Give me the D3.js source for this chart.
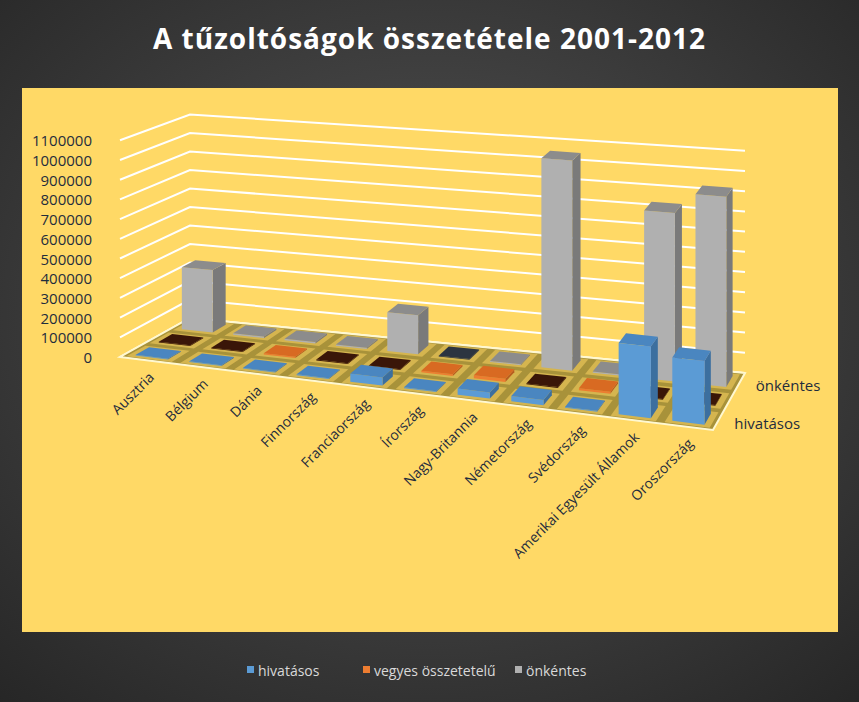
<!DOCTYPE html><html><head><meta charset="utf-8">
<script src="https://d3js.org/d3.v7.min.js"></script>
<style>body{margin:0;background:#333}</style></head><body><script>
const categories=["Ausztria","Bélgium","Dánia","Finnország","Franciaország","Írország","Nagy-Britannia","Németország","Svédország","Amerikai Egyesült Államok","Oroszország"];
const seriesNames=["hivatásos","vegyes összetetelű","önkéntes"];
const hivatasos=[2500,3000,2000,3000,40000,2000,30000,25000,2000,340000,300000];
const vegyes=[0,0,6000,0,0,8000,15000,0,10000,0,0];
const onkentes=[330000,8000,8000,6000,200000,0,5000,1050000,6000,830000,930000];
const yTicks=[0,100000,200000,300000,400000,500000,600000,700000,800000,900000,1000000,1100000];
const W=859,H=702;
const svg=d3.select("body").append("svg").attr("width",W).attr("height",H);
const defs=svg.append("defs");
const rg=defs.append("radialGradient").attr("id","bg").attr("cx","50%").attr("cy","45%").attr("r","75%");
rg.append("stop").attr("offset","0%").attr("stop-color","#555");
rg.append("stop").attr("offset","100%").attr("stop-color","#262626");
svg.append("rect").attr("width",W).attr("height",H).attr("fill","url(#bg)");
svg.append("rect").attr("x",22).attr("y",88).attr("width",816).attr("height",544).attr("fill","#FFD966");
svg.append("text").attr("x",W/2).attr("y",49).attr("text-anchor","middle").attr("font-family","Open Sans, sans-serif")
 .attr("font-weight","bold").attr("font-size",28).attr("fill","#fff").attr("letter-spacing",1).text("A tűzoltóságok összetétele 2001-2012");
// bilinear projection
const FL=[120,357],FR=[713,430],BL=[190,318],BR=[745,373];
const sFL=19.7,sFR=21.3,sBL=18.5,sBR=20.2;
const cS=d3.scaleLinear().domain([0,categories.length]).range([0,1]);
const vS=d3.scaleLinear().domain([0,100000]).range([0,1]);
function P(c,d,v){const u=cS(c),w=d;
 const x=(1-u)*(1-w)*FL[0]+u*(1-w)*FR[0]+(1-u)*w*BL[0]+u*w*BR[0];
 const y=(1-u)*(1-w)*FL[1]+u*(1-w)*FR[1]+(1-u)*w*BL[1]+u*w*BR[1];
 const s=(1-u)*(1-w)*sFL+u*(1-w)*sFR+(1-u)*w*sBL+u*w*sBR;
 return [x,y-vS(v)*s];}
const pts=a=>a.map(p=>p.join(",")).join(" ");
// gridlines
yTicks.forEach(v=>{
 svg.append("polyline").attr("points",pts([P(0,0,v),P(0,1,v),P(11,1,v)])).attr("fill","none").attr("stroke","#fff").attr("stroke-width",2);
 const p=P(0,0,v);
 svg.append("text").attr("x",p[0]-28).attr("y",p[1]+6).attr("text-anchor","end").attr("font-family","Open Sans, sans-serif").attr("font-size",15).attr("fill","#1f2d3d").text(v);
});
// floor
svg.append("polygon").attr("points",pts([P(0,0,0),P(11,0,0),P(11,1,0),P(0,1,0)])).attr("fill","#a8923a").attr("stroke","#fff8d0").attr("stroke-width",2);
for(let r=0;r<3;r++)for(let i=0;i<11;i++){
 svg.append("polygon").attr("points",pts([P(i+0.08,r/3+0.03,0),P(i+0.92,r/3+0.03,0),P(i+0.92,(r+1)/3-0.03,0),P(i+0.08,(r+1)/3-0.03,0)])).attr("fill","#e8c558").attr("opacity",0.7);
}
const cols=[{f:"#5b9bd5",s:"#3c6f9f",t:"#4a86c0",z:"#4f86bd"},{f:"#ed7d31",s:"#b85d20",t:"#d86a22",z:"#3a1608"},{f:"#b0b0b0",s:"#7a7a7a",t:"#8c8c8c",z:"#2c3440"}];
const data=[hivatasos,vegyes,onkentes];
for(let r=2;r>=0;r--){for(let i=0;i<11;i++){
 const v=data[r][i],c0=i+0.2,c1=i+0.8,d0=r/3+0.07,d1=(r+1)/3-0.07,col=cols[r];
 const h=Math.max(v,4000);
 const top=v===0?col.z:col.t;
 svg.append("polygon").attr("points",pts([P(c1,d0,0),P(c1,d1,0),P(c1,d1,h),P(c1,d0,h)])).attr("fill",v===0?col.z:col.s);
 svg.append("polygon").attr("points",pts([P(c0,d0,0),P(c1,d0,0),P(c1,d0,h),P(c0,d0,h)])).attr("fill",v===0?col.z:col.f);
 svg.append("polygon").attr("points",pts([P(c0,d0,h),P(c1,d0,h),P(c1,d1,h),P(c0,d1,h)])).attr("fill",top);
}}
// category labels
categories.forEach((c,i)=>{const p=P(i+0.5,0,0);
 svg.append("text").attr("transform",`translate(${p[0]+8},${p[1]+18}) rotate(-45)`).attr("text-anchor","end").attr("font-family","Open Sans, sans-serif").attr("font-size",14).attr("fill","#1f2d3d").text(c);});
[["önkéntes",5/6],["hivatásos",1/6]].forEach(([t,d])=>{const p=P(11,d,0);
 svg.append("text").attr("x",p[0]+16).attr("y",p[1]+8).attr("font-family","Open Sans, sans-serif").attr("font-size",15).attr("fill","#1f2d3d").text(t);});
// legend
const lg=[[258,"hivatásos"],[374,"vegyes összetetelű"],[526,"önkéntes"]];
lg.forEach(([x,t],k)=>{svg.append("rect").attr("x",x-11).attr("y",666).attr("width",7).attr("height",7).attr("fill",cols[k].f);
 svg.append("text").attr("x",x).attr("y",676).attr("font-family","Open Sans, sans-serif").attr("font-size",14).attr("fill","#d9d9d9").text(t);});
</script></body></html>
